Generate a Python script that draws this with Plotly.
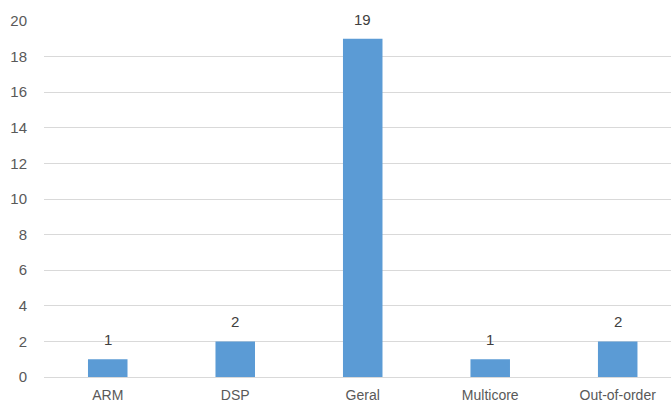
import plotly.graph_objects as go

categories = ["ARM", "DSP", "Geral", "Multicore", "Out-of-order"]
counts = [1, 2, 19, 1, 2]
y_ticks = list(range(0, 21, 2))

bar_color = "#5B9BD5"
grid_color = "#D9D9D9"
text_color = "#595959"
font_family = "Liberation Sans, Arial, sans-serif"

fig = go.Figure(
    go.Bar(
        x=categories,
        y=counts,
        marker=dict(color=bar_color, line=dict(width=0)),
        width=0.31,
        hoverinfo="x+y",
    )
)

# value labels above each bar
for cat, val in zip(categories, counts):
    fig.add_annotation(
        x=cat, y=val, text=str(val), showarrow=False,
        yanchor="bottom", yshift=9,
        font=dict(family=font_family, size=15, color="#404040"),
    )

fig.update_layout(
    width=671, height=405,
    margin=dict(l=44, r=0, t=21, b=28),
    paper_bgcolor="white", plot_bgcolor="white",
    showlegend=False,
    font=dict(family=font_family, size=15, color=text_color),
    xaxis=dict(
        range=[-0.5, 4.418],
        showgrid=False,
        showline=True, linecolor=grid_color, linewidth=1,
        ticks="", tickfont=dict(size=14, color=text_color),
        ticklabelstandoff=5,
        automargin=False,
    ),
    yaxis=dict(
        range=[0, 20],
        tickvals=y_ticks,
        showgrid=True, gridcolor=grid_color, gridwidth=1,
        zeroline=False, showline=False,
        ticks="", tickfont=dict(size=15, color=text_color),
        ticklabelstandoff=16,
        automargin=False,
    ),
)

fig.write_html("out.html")
